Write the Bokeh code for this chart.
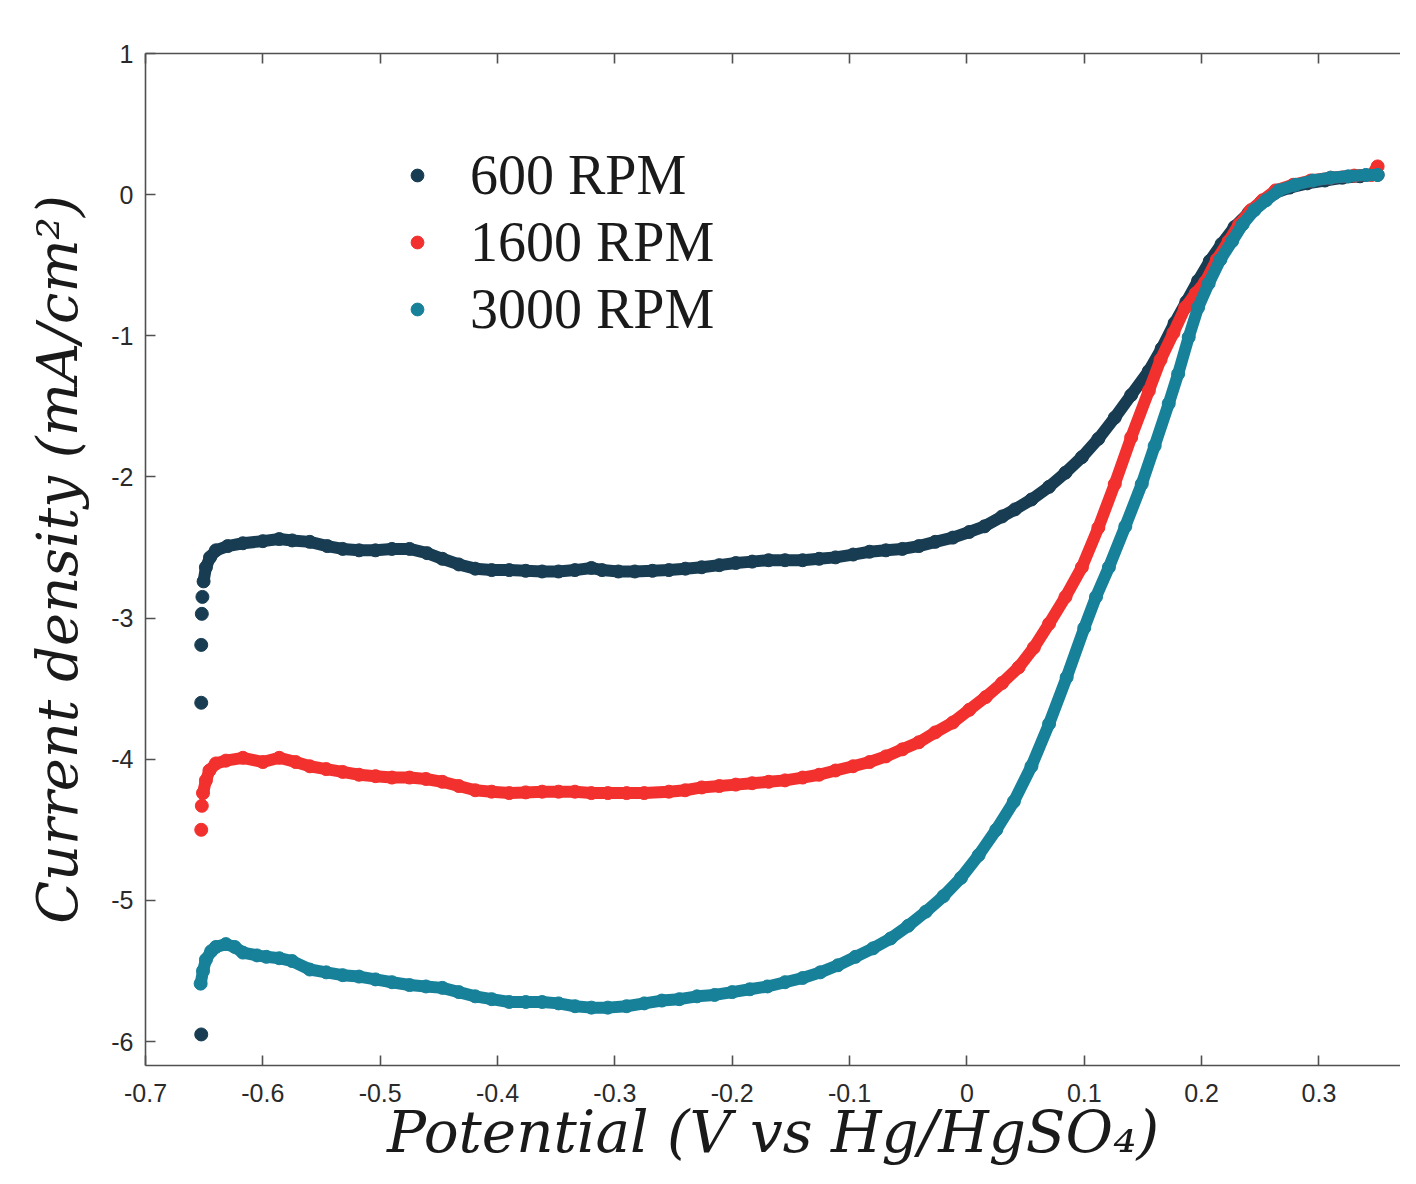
from bokeh.plotting import figure
from bokeh.models import Range1d, LinearAxis, FixedTicker, Legend, LegendItem
from bokeh.embed import file_html
from bokeh.resources import INLINE

# ---------------- data ----------------
# 600 RPM: isolated transient points, then the dense curve
v600_spike = [-0.6525, -0.6525, -0.6525, -0.652, -0.6515]
i600_spike = [-5.95, -3.60, -3.19, -2.97, -2.85]
v600 = [-0.6505, -0.6485, -0.645, -0.640, -0.630, -0.617, -0.600, -0.586, -0.575, -0.560,
        -0.545, -0.532, -0.518, -0.504, -0.490, -0.475, -0.460, -0.447, -0.433, -0.419,
        -0.405, -0.390, -0.376, -0.362, -0.348, -0.334, -0.320, -0.311, -0.297, -0.283,
        -0.268, -0.254, -0.240, -0.226, -0.211, -0.197, -0.183, -0.169, -0.155, -0.140,
        -0.126, -0.112, -0.097, -0.083, -0.069, -0.055, -0.041, -0.027, -0.012, 0.002,
        0.015, 0.030, 0.041, 0.055, 0.070, 0.084, 0.098, 0.112, 0.126, 0.140,
        0.155, 0.166, 0.177, 0.187, 0.197, 0.207, 0.217, 0.228, 0.240, 0.251,
        0.262, 0.275, 0.290, 0.305, 0.320, 0.335, 0.350]
i600 = [-2.74, -2.64, -2.57, -2.52, -2.49, -2.47, -2.455, -2.44, -2.45, -2.46,
        -2.49, -2.51, -2.52, -2.52, -2.51, -2.51, -2.54, -2.58, -2.62, -2.65,
        -2.66, -2.66, -2.665, -2.67, -2.67, -2.66, -2.645, -2.66, -2.67, -2.67,
        -2.665, -2.66, -2.65, -2.64, -2.625, -2.61, -2.60, -2.59, -2.59, -2.59,
        -2.58, -2.57, -2.55, -2.53, -2.52, -2.51, -2.49, -2.46, -2.43, -2.39,
        -2.35, -2.28, -2.23, -2.16, -2.07, -1.97, -1.86, -1.73, -1.58, -1.42,
        -1.25, -1.09, -0.91, -0.76, -0.61, -0.47, -0.35, -0.23, -0.13, -0.05,
        0.01, 0.05, 0.08, 0.10, 0.12, 0.13, 0.14]

# 1600 RPM
v1600_spike = [-0.6525, -0.652]
i1600_spike = [-4.50, -4.33]
v1600 = [-0.651, -0.6485, -0.6455, -0.640, -0.6315, -0.617, -0.600, -0.586, -0.572, -0.560,
         -0.546, -0.532, -0.518, -0.504, -0.490, -0.475, -0.461, -0.447, -0.433, -0.419,
         -0.405, -0.390, -0.376, -0.362, -0.348, -0.334, -0.320, -0.306, -0.290, -0.275,
         -0.254, -0.240, -0.226, -0.211, -0.197, -0.183, -0.169, -0.155, -0.140, -0.126,
         -0.112, -0.097, -0.083, -0.069, -0.055, -0.041, -0.027, -0.012, 0.002, 0.016,
         0.030, 0.044, 0.057, 0.070, 0.084, 0.098, 0.112, 0.126, 0.140, 0.155,
         0.165, 0.176, 0.186, 0.195, 0.203, 0.213, 0.223, 0.232, 0.242, 0.252,
         0.263, 0.278, 0.293, 0.310, 0.330, 0.345, 0.350]
i1600 = [-4.24, -4.15, -4.08, -4.03, -4.01, -3.99, -4.02, -3.99, -4.02, -4.05,
         -4.07, -4.09, -4.11, -4.12, -4.13, -4.13, -4.14, -4.16, -4.19, -4.22,
         -4.23, -4.24, -4.235, -4.23, -4.23, -4.23, -4.24, -4.24, -4.24, -4.24,
         -4.23, -4.22, -4.20, -4.19, -4.18, -4.17, -4.16, -4.15, -4.13, -4.11,
         -4.08, -4.05, -4.02, -3.98, -3.93, -3.88, -3.81, -3.74, -3.65, -3.56,
         -3.46, -3.35, -3.21, -3.04, -2.85, -2.64, -2.36, -2.05, -1.72, -1.39,
         -1.17, -0.98, -0.80, -0.70, -0.62, -0.46, -0.33, -0.21, -0.11, -0.04,
         0.03, 0.07, 0.10, 0.12, 0.135, 0.14, 0.20]

# 3000 RPM
v3000 = [-0.653, -0.651, -0.6485, -0.644, -0.640, -0.6315, -0.624, -0.617, -0.605, -0.597,
         -0.586, -0.575, -0.560, -0.546, -0.532, -0.518, -0.504, -0.490, -0.475, -0.461,
         -0.447, -0.433, -0.419, -0.405, -0.390, -0.376, -0.362, -0.348, -0.334, -0.320,
         -0.306, -0.290, -0.275, -0.260, -0.245, -0.230, -0.215, -0.200, -0.185, -0.170,
         -0.155, -0.140, -0.125, -0.110, -0.095, -0.080, -0.065, -0.050, -0.035, -0.020,
         -0.005, 0.010, 0.025, 0.040, 0.055, 0.070, 0.085, 0.100, 0.110, 0.121,
         0.135, 0.149, 0.160, 0.172, 0.180, 0.189, 0.197, 0.206, 0.216, 0.226,
         0.235, 0.245, 0.255, 0.266, 0.280, 0.295, 0.310, 0.325, 0.340, 0.350]
i3000 = [-5.59, -5.50, -5.42, -5.36, -5.33, -5.31, -5.33, -5.37, -5.39, -5.40,
         -5.41, -5.43, -5.49, -5.51, -5.53, -5.54, -5.56, -5.58, -5.60, -5.61,
         -5.62, -5.65, -5.68, -5.70, -5.72, -5.72, -5.72, -5.73, -5.75, -5.76,
         -5.76, -5.75, -5.73, -5.71, -5.70, -5.68, -5.67, -5.65, -5.63, -5.61,
         -5.58, -5.55, -5.51, -5.46, -5.40, -5.34, -5.27, -5.18, -5.08, -4.97,
         -4.84, -4.68, -4.50, -4.30, -4.05, -3.75, -3.42, -3.07, -2.85, -2.64,
         -2.35, -2.05, -1.78, -1.48, -1.27, -1.01, -0.80, -0.63, -0.46, -0.33,
         -0.21, -0.11, -0.04, 0.03, 0.07, 0.10, 0.12, 0.13, 0.14, 0.14]

series_labels = ["600 RPM", "1600 RPM", "3000 RPM"]
series_colors = ["#183c52", "#f2312e", "#17819a"]

x_ticks = [-0.7, -0.6, -0.5, -0.4, -0.3, -0.2, -0.1, 0.0, 0.1, 0.2, 0.3]
x_tick_labels = ["-0.7", "-0.6", "-0.5", "-0.4", "-0.3", "-0.2", "-0.1", "0", "0.1", "0.2", "0.3"]
y_ticks = [1, 0, -1, -2, -3, -4, -5, -6]
y_tick_labels = ["1", "0", "-1", "-2", "-3", "-4", "-5", "-6"]

# ---------------- figure ----------------
p = figure(width=1400, height=1168, output_backend="svg", toolbar_location=None,
           x_range=Range1d(-0.7, 0.3695), y_range=Range1d(-6.17, 1.0),
           x_axis_location=None, y_axis_location=None,
           min_border_left=145, min_border_top=53, min_border_right=0, min_border_bottom=102)
p.outline_line_color = None
p.xgrid.visible = False
p.ygrid.visible = False
p.background_fill_color = "white"
p.border_fill_color = "white"

axis_color = "#505050"
tick_font = "Liberation Sans"
label_font = "DejaVu Serif"
legend_font = "Liberation Serif"


def style_axis(ax):
    ax.axis_line_color = axis_color
    ax.axis_line_width = 1.6
    ax.major_tick_line_color = axis_color
    ax.major_tick_line_width = 1.6
    ax.major_tick_in = 10
    ax.major_tick_out = 0
    ax.minor_tick_line_color = None
    ax.major_label_text_font = tick_font
    ax.major_label_text_font_size = "25px"
    ax.major_label_text_color = "#2a2a2a"


xb = LinearAxis(ticker=FixedTicker(ticks=x_ticks),
                major_label_overrides=dict(zip(x_ticks, x_tick_labels)),
                axis_label="Potential (V vs Hg/HgSO\u2084)")
style_axis(xb)
xb.major_label_standoff = 18
xb.axis_label_standoff = -7
xb.axis_label_text_font = label_font
xb.axis_label_text_font_style = "italic"
xb.axis_label_text_font_size = "58px"
xb.axis_label_text_color = "#1a1a1a"
p.add_layout(xb, "below")

xt = LinearAxis(ticker=FixedTicker(ticks=x_ticks),
                major_label_overrides={t: "" for t in x_ticks})
style_axis(xt)
xt.major_label_standoff = 0
p.add_layout(xt, "above")

yl = LinearAxis(ticker=FixedTicker(ticks=y_ticks),
                major_label_overrides=dict(zip(y_ticks, y_tick_labels)),
                axis_label="Current density (mA/cm\u00b2)")
style_axis(yl)
yl.major_label_standoff = 12
yl.axis_label_standoff = 18
yl.axis_label_text_font = label_font
yl.axis_label_text_font_style = "italic"
yl.axis_label_text_font_size = "56px"
yl.axis_label_text_color = "#1a1a1a"
p.add_layout(yl, "left")

# ---------------- data glyphs ----------------
mk = 13
lw = 12
renderers = []
for (vs, is_, vm, im, col) in [
    (v600_spike, i600_spike, v600, i600, series_colors[0]),
    (v1600_spike, i1600_spike, v1600, i1600, series_colors[1]),
    ([], [], v3000, i3000, series_colors[2]),
]:
    p.line(vm, im, line_color=col, line_width=lw, line_cap="round", line_join="round")
    r = p.scatter(vm, im, size=mk, marker="circle", fill_color=col, line_color=col)
    if vs:
        p.scatter(vs, is_, size=mk, marker="circle", fill_color=col, line_color=col)
    renderers.append(r)

legend = Legend(items=[LegendItem(label=lab, renderers=[r]) for lab, r in zip(series_labels, renderers)],
                location=(256, 724))
legend.border_line_color = None
legend.background_fill_alpha = 0
legend.label_text_font = legend_font
legend.label_text_font_size = "56px"
legend.label_text_color = "#1a1a1a"
legend.glyph_width = 32
legend.glyph_height = 32
legend.label_standoff = 37
legend.spacing = 3
legend.padding = 0
legend.margin = 0
p.add_layout(legend, "center")

open("out.html", "w").write(file_html(p, INLINE))
